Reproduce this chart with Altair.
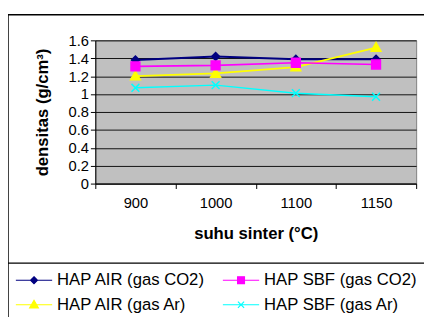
import altair as alt
import pandas as pd

temps = ["900", "1000", "1100", "1150"]
names = ["HAP AIR (gas CO2)", "HAP AIR (gas Ar)", "HAP SBF (gas CO2)", "HAP SBF (gas Ar)"]
air_co2 = [1.38, 1.42, 1.39, 1.39]
air_ar = [1.20, 1.23, 1.30, 1.52]
sbf_co2 = [1.31, 1.32, 1.35, 1.33]
sbf_ar = [1.07, 1.10, 1.01, 0.97]
colors = ["#000080", "#FFFF00", "#FF00FF", "#00FFFF"]
y_ticks = [0, 0.2, 0.4, 0.6, 0.8, 1.0, 1.2, 1.4, 1.6]

rows = []
for name, vals in zip(names, [air_co2, air_ar, sbf_co2, sbf_ar]):
    for t, v in zip(temps, vals):
        rows.append({"suhu": t, "densitas": v, "series": name})
df = pd.DataFrame(rows)

marker_paths = [
    "M0,-0.8L0.8,0L0,0.8L-0.8,0Z",
    "M0,-1L1,0.75H-1Z",
    "M-0.9,-0.9H0.9V0.9H-0.9Z",
    "M-0.8,-0.8L0.8,0.8M-0.8,0.8L0.8,-0.8",
]
legend_paths = [
    "M-1,0H1M0,-0.19L0.19,0L0,0.19L-0.19,0Z",
    "M-1,0H1M0,-0.24L0.24,0.18H-0.24Z",
    "M-1,0H1M-0.19,-0.19H0.19V0.19H-0.19Z",
    "M-1,0H1M-0.17,-0.17L0.17,0.17M-0.17,0.17L0.17,-0.17",
]

FONT = "Liberation Sans"

x_enc = alt.X(
    "suhu:O",
    sort=temps,
    scale=alt.Scale(paddingInner=0, paddingOuter=0),
    axis=alt.Axis(
        title="suhu sinter (°C)",
        labelAngle=0,
        tickBand="extent",
        grid=False,
        domainColor="black",
        tickColor="black",
        tickSize=5,
        labelFontSize=15,
        labelPadding=7,
        titleFontSize=17,
        titleFontWeight="bold",
        titlePadding=16,
        labelColor="black",
        titleColor="black",
    ),
)
y_enc = alt.Y(
    "densitas:Q",
    scale=alt.Scale(domain=[0, 1.6], nice=False, zero=True),
    axis=alt.Axis(
        title="densitas (g/cm³)",
        values=y_ticks,
        format="~f",
        grid=True,
        gridColor="#111111",
        gridWidth=1,
        domainColor="black",
        tickColor="black",
        tickSize=5,
        labelFontSize=15,
        labelPadding=2,
        titleFontSize=17,
        titleFontWeight="bold",
        titlePadding=17,
        labelColor="black",
        titleColor="black",
    ),
)

def cscale():
    return alt.Scale(domain=names, range=colors)

lines = alt.Chart(df).mark_line().encode(
    x=x_enc,
    y=y_enc,
    color=alt.Color("series:N", scale=cscale(), legend=None),
    strokeWidth=alt.StrokeWidth(
        "series:N", scale=alt.Scale(domain=names, range=[2, 1.5, 1.5, 1.5]), legend=None
    ),
)

points = alt.Chart(df).mark_point(filled=True, size=100, opacity=1, strokeWidth=1.5).encode(
    x=x_enc,
    y=y_enc,
    color=alt.Color("series:N", scale=cscale(), legend=None),
    stroke=alt.Stroke("series:N", scale=cscale(), legend=None),
    shape=alt.Shape("series:N", scale=alt.Scale(domain=names, range=marker_paths), legend=None),
)

leg = alt.Legend(
    title=None,
    orient="none",
    legendX=-82,
    legendY=232,
    columns=2,
    symbolSize=1369,
    symbolStrokeWidth=1.2,
    clipHeight=25,
    labelFontSize=17,
    labelFont=FONT,
    labelColor="black",
    labelOffset=4,
    columnPadding=16,
    rowPadding=0,
    padding=0,
    labelLimit=300,
)

legend_layer = alt.Chart(df).transform_filter("false").mark_point(
    filled=True, size=100, opacity=1
).encode(
    x=x_enc,
    y=y_enc,
    fill=alt.Fill("series:N", scale=cscale(), legend=leg),
    stroke=alt.Stroke("series:N", scale=cscale(), legend=leg),
    shape=alt.Shape("series:N", scale=alt.Scale(domain=names, range=legend_paths), legend=leg),
)

frame_df = pd.DataFrame({"k": [0]})
frame = alt.Chart(frame_df).mark_rect(fillOpacity=0, stroke="black", strokeWidth=1.5).encode(
    x=alt.value(-89), x2=alt.value(340), y=alt.value(-26), y2=alt.value(300)
)
sep = alt.Chart(frame_df).mark_rule(color="black", strokeWidth=1.2).encode(
    x=alt.value(-89), x2=alt.value(340), y=alt.value(227)
)

chart = (
    alt.layer(frame, sep, lines, points, legend_layer)
    .resolve_scale(shape="independent", fill="independent", stroke="independent")
    .properties(
        width=327,
        height=146,
        autosize=alt.AutoSizeParams(type="none"),
        padding={"left": 89, "top": 30, "right": 8, "bottom": 133},
    )
    .configure(font=FONT)
    .configure_view(fill="#C0C0C0", stroke="#808080", strokeWidth=1)
)

chart.save("out.html", embed_options={"renderer": "svg", "actions": False})
